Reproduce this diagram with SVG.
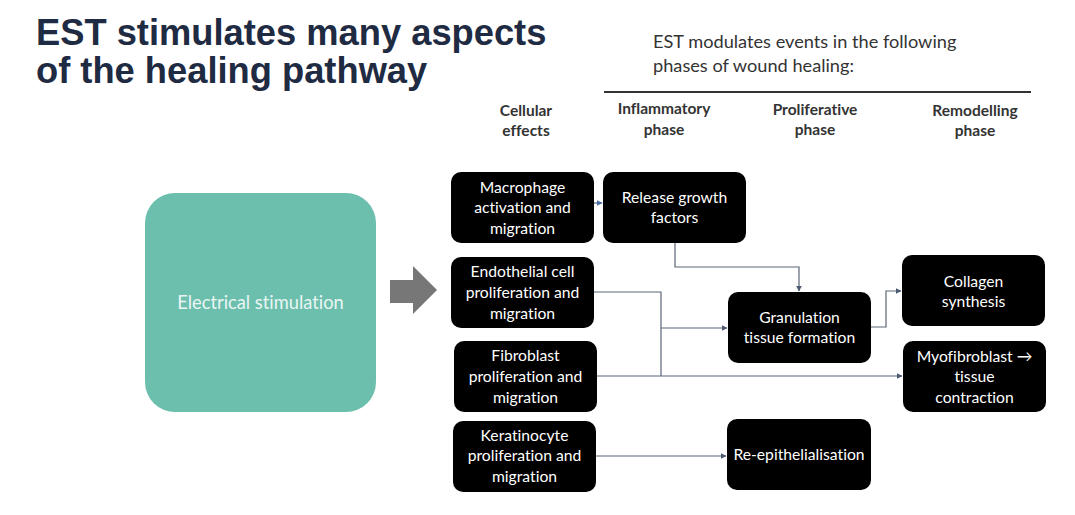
<svg xmlns="http://www.w3.org/2000/svg" width="1075" height="515" viewBox="0 0 1075 515">
<defs>
<style>
text{font-variant-ligatures:none}
.title{font-family:"Liberation Sans",Arial,sans-serif;font-weight:bold;font-size:36.3px;fill:#1f2b42}
.sub{font-family:Lato,"Open Sans",sans-serif;font-size:18.2px;fill:#333}
.hdr{font-family:Lato,"Open Sans",sans-serif;font-weight:bold;font-size:15.5px;fill:#333;text-anchor:middle}
.box{fill:#000}
.bt{font-family:Lato,"Open Sans",sans-serif;font-size:15.7px;fill:#fff;text-anchor:middle}
.con{fill:none;stroke:#5b6676;stroke-width:1.2}
</style>
<marker id="ah" viewBox="0 0 10 10" refX="9" refY="5" markerWidth="6" markerHeight="6" orient="auto" markerUnits="userSpaceOnUse">
<path d="M0,0 L10,5 L0,10 z" fill="#4d5a70"/>
</marker>
<marker id="ahb" viewBox="0 0 10 10" refX="9" refY="5" markerWidth="6" markerHeight="6" orient="auto" markerUnits="userSpaceOnUse">
<path d="M0,0 L10,5 L0,10 z" fill="#4a6fa5"/>
</marker>
</defs>
<rect width="1075" height="515" fill="#fff"/>
<g id="title">
<text class="title" x="36" y="45">EST stimulates many aspects</text>
<text class="title" x="36" y="83">of the healing pathway</text>
</g>
<g id="subtitle">
<text class="sub" x="653" y="48">EST modulates events in the following</text>
<text class="sub" x="653" y="72">phases of wound healing:</text>
<line x1="604" y1="92" x2="1031" y2="92" stroke="#333" stroke-width="2"/>
</g>
<g id="headers">
<text class="hdr" x="526" y="116">Cellular</text>
<text class="hdr" x="526" y="136">effects</text>
<text class="hdr" x="664" y="114">Inflammatory</text>
<text class="hdr" x="664" y="135">phase</text>
<text class="hdr" x="815" y="115">Proliferative</text>
<text class="hdr" x="815" y="135">phase</text>
<text class="hdr" x="975" y="116">Remodelling</text>
<text class="hdr" x="975" y="136">phase</text>
</g>
<g id="connectors">
<line class="con" x1="594" y1="203" x2="602" y2="203" stroke="#4a6fa5" marker-end="url(#ahb)"/>
<polyline class="con" points="675,243 675,267 799,267 799,291" marker-end="url(#ah)"/>
<polyline class="con" points="594,292 661,292 661,376"/>
<polyline class="con" points="661,328 727,328" marker-end="url(#ah)"/>
<polyline class="con" points="597,376 902,376" marker-end="url(#ah)"/>
<polyline class="con" points="871,327 886,327 886,291 901,291" marker-end="url(#ah)"/>
<polyline class="con" points="596,456 726,456" marker-end="url(#ah)"/>
</g>
<g id="electrical-stimulation">
<rect x="145" y="193" width="231" height="219" rx="30" fill="#6cbfad"/>
<text x="260.5" y="309" font-family="Lato,'Open Sans',sans-serif" font-size="18.3px" fill="#eaf6f3" text-anchor="middle">Electrical stimulation</text>
</g>
<g id="big-arrow">
<polygon points="390,280 413,280 413,266 437,290 413,314 413,303 390,303" fill="#777"/>
</g>
<g id="macrophage">
<rect class="box" x="451" y="172" width="143" height="71" rx="10"/>
<text class="bt" x="522.5" y="193">Macrophage</text>
<text class="bt" x="522.5" y="213">activation and</text>
<text class="bt" x="522.5" y="234">migration</text>
</g>
<g id="release-growth-factors">
<rect class="box" x="603" y="172" width="143" height="71" rx="10"/>
<text class="bt" x="674.5" y="203">Release growth</text>
<text class="bt" x="674.5" y="223">factors</text>
</g>
<g id="endothelial">
<rect class="box" x="451" y="257" width="143" height="71" rx="10"/>
<text class="bt" x="522.5" y="277">Endothelial cell</text>
<text class="bt" x="522.5" y="298">proliferation and</text>
<text class="bt" x="522.5" y="319">migration</text>
</g>
<g id="fibroblast">
<rect class="box" x="454" y="341" width="143" height="71" rx="10"/>
<text class="bt" x="525.5" y="361">Fibroblast</text>
<text class="bt" x="525.5" y="382">proliferation and</text>
<text class="bt" x="525.5" y="403">migration</text>
</g>
<g id="keratinocyte">
<rect class="box" x="453" y="421" width="143" height="71" rx="10"/>
<text class="bt" x="524.5" y="441">Keratinocyte</text>
<text class="bt" x="524.5" y="461">proliferation and</text>
<text class="bt" x="524.5" y="482">migration</text>
</g>
<g id="granulation">
<rect class="box" x="728" y="292" width="143" height="71" rx="10"/>
<text class="bt" x="799.5" y="323">Granulation</text>
<text class="bt" x="799.5" y="343">tissue formation</text>
</g>
<g id="re-epithelialisation">
<rect class="box" x="727" y="419" width="144" height="71" rx="10"/>
<text class="bt" x="799" y="460">Re-epithelialisation</text>
</g>
<g id="collagen">
<rect class="box" x="902" y="255" width="143" height="71" rx="10"/>
<text class="bt" x="973.5" y="287">Collagen</text>
<text class="bt" x="973.5" y="307">synthesis</text>
</g>
<g id="myofibroblast">
<rect class="box" x="903" y="341" width="143" height="71" rx="10"/>
<text class="bt" x="974.5" y="362">Myofibroblast →</text>
<text class="bt" x="974.5" y="382">tissue</text>
<text class="bt" x="974.5" y="403">contraction</text>
</g>
</svg>
